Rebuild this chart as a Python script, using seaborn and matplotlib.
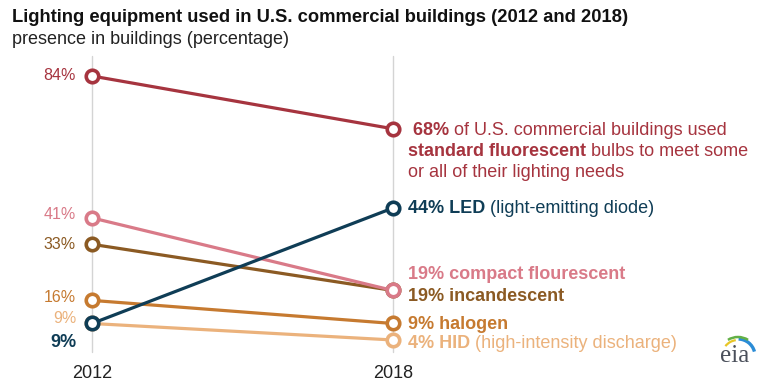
import pandas as pd
import matplotlib
matplotlib.use("Agg")
import matplotlib.pyplot as plt
import matplotlib.transforms as mtransforms
from matplotlib.patches import Arc
import seaborn as sns

# data
years = [2012, 2018]
lamps = ["standard fluorescent", "HID", "halogen", "incandescent", "compact fluorescent", "LED"]
share_2012 = [84, 9, 16, 33, 41, 9]
share_2018 = [68, 4, 9, 19, 19, 44]
lamp_colors = ["#a6343f", "#ebb27c", "#c67a30", "#8b5a23", "#d97a88", "#0f3d56"]

# label layout (pixel nudges so overlapping values stay readable)
left_nudge = [0, 5, 3, 0, 3, -19]
left_bold = [False, False, False, False, False, True]
right_nudge = {"standard fluorescent": -2, "HID": -4, "halogen": -1,
               "incandescent": -6, "compact fluorescent": 16, "LED": -1}

rows = []
for lamp, a, b in zip(lamps, share_2012, share_2018):
    rows.append((lamp, years[0], a))
    rows.append((lamp, years[1], b))
df = pd.DataFrame(rows, columns=["lamp", "year", "share"])

sns.set_theme(style="white")
plt.rcParams["font.family"] = ["Liberation Sans", "DejaVu Sans"]

fig = plt.figure(figsize=(7.68, 3.85), dpi=100)
ax = fig.add_axes([0, 0, 1, 1])

sns.lineplot(data=df, x="year", y="share", hue="lamp", hue_order=lamps,
             palette=lamp_colors, marker="o", markersize=9, linewidth=2.3,
             legend=False, sort=False, ax=ax)
series_lines = list(ax.lines)
for line in series_lines:
    c = line.get_color()
    line.set_markeredgecolor(c)
    line.set_markerfacecolor("white")
    line.set_markeredgewidth(2.6)
    line.set_clip_on(False)

ax.set_xlim(2010.166, 2025.475)
ax.set_ylim(-9.64, 107.03)
ax.axis("off")

for yr in years:
    ax.axvline(yr, ymin=0.086, ymax=0.855, color="#d4d4d4", linewidth=1, zorder=0)

# year labels
blend = mtransforms.blended_transform_factory(ax.transData, fig.transFigure)
for yr in years:
    ax.text(yr, 1 - 373 / 385, str(yr), transform=blend, ha="center", va="center",
            fontsize=13, color="#222222")

# left value labels
for val, col, dy, bold in zip(share_2012, lamp_colors, left_nudge, left_bold):
    ax.annotate(f"{val}%", xy=(years[0], val), xytext=(-16, dy),
                textcoords="offset pixels", ha="right", va="center",
                fontsize=13 if bold else 11.5, color=col,
                fontweight="bold" if bold else "normal")


def rich_line(parts, xy, offset, color, size=13):
    prev = None
    for txt, weight in parts:
        if prev is None:
            prev = ax.annotate(txt, xy=xy, xytext=offset, textcoords="offset pixels",
                               ha="left", va="center", fontsize=size, color=color,
                               fontweight=weight)
        else:
            prev = ax.annotate(txt, xy=(1, 0), xycoords=prev, ha="left", va="bottom",
                               fontsize=size, color=color, fontweight=weight)
    return prev


col = dict(zip(lamps, lamp_colors))
v18 = dict(zip(lamps, share_2018))

lamp = "standard fluorescent"
xy = (years[1], v18[lamp])
rich_line([(f" {v18[lamp]}%", "bold"), (" of U.S. commercial buildings used", "normal")],
          xy, (15, right_nudge[lamp]), col[lamp])
rich_line([("standard fluorescent", "bold"), (" bulbs to meet some", "normal")],
          xy, (15, right_nudge[lamp] - 21), col[lamp])
rich_line([("or all of their lighting needs", "normal")],
          xy, (15, right_nudge[lamp] - 42), col[lamp])

lamp = "LED"
rich_line([(f"{v18[lamp]}% LED", "bold"), (" (light-emitting diode)", "normal")],
          (years[1], v18[lamp]), (15, right_nudge[lamp]), col[lamp])

lamp = "compact fluorescent"
rich_line([(f"{v18[lamp]}% compact flourescent", "bold")],
          (years[1], v18[lamp]), (15, right_nudge[lamp]), col[lamp])

lamp = "incandescent"
rich_line([(f"{v18[lamp]}% incandescent", "bold")],
          (years[1], v18[lamp]), (15, right_nudge[lamp]), col[lamp])

lamp = "halogen"
rich_line([(f"{v18[lamp]}% halogen", "bold")],
          (years[1], v18[lamp]), (15, right_nudge[lamp]), col[lamp])

lamp = "HID"
rich_line([(f"{v18[lamp]}% HID", "bold"), (" (high-intensity discharge)", "normal")],
          (years[1], v18[lamp]), (15, right_nudge[lamp]), col[lamp])

# titles
fig.text(12 / 768, 1 - 18 / 385,
         "Lighting equipment used in U.S. commercial buildings (2012 and 2018)",
         fontsize=13.2, fontweight="bold", color="#111111", va="center")
fig.text(12 / 768, 1 - 40 / 385, "presence in buildings (percentage)",
         fontsize=13, color="#222222", va="center")

# eia logo
fig.text(735 / 768, 1 - 356 / 385, "eia", family=["Liberation Serif", "DejaVu Serif"],
         fontsize=18, color="#4a4f5a", ha="center", va="center")
logo = fig.add_axes([715 / 768, 1 - 365 / 385, 45 / 768, 35 / 385])
logo.set_xlim(0, 45)
logo.set_ylim(0, 35)
logo.axis("off")
for r, t1, t2, c, lw in [(17, 15, 88, "#2b8cd6", 2.4),
                         (19, 58, 122, "#63b046", 1.8),
                         (16, 98, 142, "#e8c626", 1.6)]:
    logo.add_patch(Arc((23, 9), 2 * r, 2 * r, theta1=t1, theta2=t2, color=c, linewidth=lw))

fig.savefig("out.png", dpi=100)
